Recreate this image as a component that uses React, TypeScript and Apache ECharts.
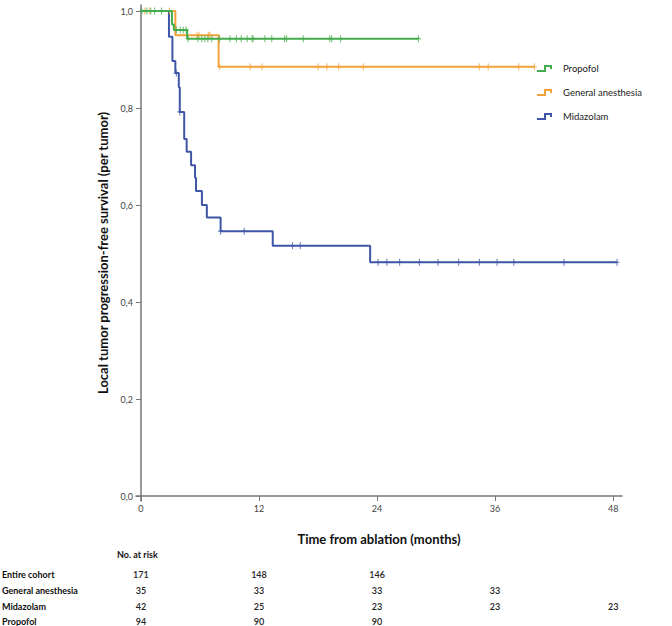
import React, { useEffect, useRef } from "react";
import * as echarts from "echarts";

// ---- data ----
const xTicks = [0, 12, 24, 36, 48];
const yTicks = [0, 0.2, 0.4, 0.6, 0.8, 1.0];

const seriesNames = ["Propofol", "General anesthesia", "Midazolam"];
const seriesColors = ["#43ad4c", "#f4a23a", "#3f56a6"];

const propofolTimes = [0, 3.15, 3.35, 4.7, 28.2];
const propofolSurv = [1, 0.972, 0.961, 0.943, 0.943];
const propofolCensor = [0.1, 0.6, 1.0, 1.4, 2.1, 3.6, 4.0, 4.3, 4.6, 4.8, 5.8, 6.2, 6.5, 6.8, 7.2, 8.0, 9.05, 9.7, 10.2, 10.8, 11.3, 11.4, 12.6, 13.3, 14.6, 14.8, 16.5, 19.2, 19.4, 20.3, 28.2];

const generalTimes = [0, 3.5, 7.9, 40.0];
const generalSurv = [1, 0.95, 0.885, 0.885];
const generalCensor = [0.4, 0.9, 2.9, 5.7, 5.9, 6.85, 7.0, 8.0, 11.1, 12.3, 18.0, 18.9, 20.1, 22.6, 34.4, 35.3, 38.4, 40.0];

const midazolamTimes = [0, 2.85, 3.2, 3.5, 3.85, 3.95, 4.4, 4.65, 5.1, 5.5, 5.6, 6.2, 6.7, 8.1, 13.4, 23.3, 48.4];
const midazolamSurv = [1, 0.947, 0.897, 0.872, 0.843, 0.792, 0.736, 0.71, 0.682, 0.656, 0.629, 0.6, 0.574, 0.546, 0.516, 0.482, 0.482];
const midazolamCensor = [3.6, 3.95, 8.1, 10.5, 15.4, 16.2, 24.1, 25.0, 26.3, 28.3, 30.2, 32.3, 34.4, 36.2, 37.9, 43.0, 48.4];

const riskTimes = [0, 12, 24, 36, 48];
const riskRowLabels = ["Entire cohort", "General anesthesia", "Midazolam", "Propofol"];
const riskEntire = [171, 148, 146, null, null];
const riskGeneral = [35, 33, 33, 33, null];
const riskMidazolam = [42, 25, 23, 23, 23];
const riskPropofol = [94, 90, 90, null, null];

// ---- helpers ----
function survAt(times: number[], surv: number[], t: number) {
  let v = surv[0];
  for (let i = 0; i < times.length; i++) if (t >= times[i]) v = surv[i];
  return v;
}

const FONT = "Lato, 'Open Sans', sans-serif";
const PLUS = "path://M2,0 L3,0 L3,2.5 L5,2.5 L5,3.5 L3,3.5 L3,6 L2,6 L2,3.5 L0,3.5 L0,2.5 L2,2.5 Z";

export default function App() {
  const ref = useRef<HTMLDivElement>(null);
  useEffect(() => {
    document.body.style.margin = "0";
    const chart = echarts.init(ref.current!, null, { renderer: "svg" });
    const curves = [
      [propofolTimes, propofolSurv, propofolCensor],
      [generalTimes, generalSurv, generalCensor],
      [midazolamTimes, midazolamSurv, midazolamCensor],
    ] as number[][][];

    const series: any[] = [];
    curves.forEach(([times, surv, cens], i) => {
      series.push({
        name: seriesNames[i],
        type: "line",
        step: "end",
        data: times.map((t, k) => [t, surv[k]]),
        showSymbol: false,
        lineStyle: { color: seriesColors[i], width: 2 },
        z: 3 - i + 2,
        silent: true,
      });
      series.push({
        name: seriesNames[i] + " censored",
        type: "scatter",
        data: cens.map((t) => [t, survAt(times, surv, t)]),
        symbol: PLUS,
        symbolSize: [5, 7],
        itemStyle: { color: seriesColors[i] },
        z: 3 - i + 2,
        silent: true,
      });
    });

    const axisColor = "#777";
    chart.setOption({
      animation: false,
      textStyle: { fontFamily: FONT },
      grid: { left: 136, right: 50, top: 5, bottom: 125 },
      xAxis: {
        type: "value",
        min: -0.5,
        max: 48.9,
        splitLine: { show: false },
        axisLine: { lineStyle: { color: axisColor, width: 1.5 } },
        axisTick: { length: 5, lineStyle: { color: axisColor }, customValues: xTicks },
        axisLabel: { customValues: xTicks, fontSize: 9, color: "#444", margin: 3, fontFamily: FONT },
        name: "Time from ablation (months)",
        nameLocation: "middle",
        nameGap: 31,
        nameTextStyle: { fontSize: 13, fontWeight: "bold", color: "#111", fontFamily: FONT },
      },
      yAxis: {
        type: "value",
        min: -0.0103,
        max: 1.0124,
        splitLine: { show: false },
        axisLine: { show: true, lineStyle: { color: axisColor, width: 1.5 } },
        axisTick: { show: true, length: 5, lineStyle: { color: axisColor }, customValues: yTicks },
        axisLabel: {
          customValues: yTicks,
          fontSize: 9,
          color: "#444",
          margin: 3,
          fontFamily: FONT,
          formatter: (v: number) => v.toFixed(1).replace(".", ","),
        },
        name: "Local tumor progression-free survival (per tumor)",
        nameLocation: "middle",
        nameGap: 26,
        nameTextStyle: { fontSize: 13, fontWeight: "bold", color: "#111", fontFamily: FONT },
      },
      series,
    });

    // risk table and legend
    const xs = riskTimes.map((t) => chart.convertToPixel({ xAxisIndex: 0 }, t) as number);
    const rows = [riskEntire, riskGeneral, riskMidazolam, riskPropofol];
    const rowY = [574, 590, 606, 621];
    const graphic: any[] = [];
    graphic.push({
      type: "text",
      left: 117,
      top: 550,
      style: { text: "No. at risk", fontSize: 9, fontWeight: "bold", fill: "#111", fontFamily: FONT },
    });
    rows.forEach((row, r) => {
      graphic.push({
        type: "text",
        x: 2,
        y: rowY[r],
        style: { text: riskRowLabels[r], fontSize: 9, fontWeight: "bold", fill: "#111", fontFamily: FONT, verticalAlign: "middle" },
      });
      row.forEach((v, c) => {
        if (v == null) return;
        graphic.push({
          type: "text",
          x: xs[c],
          y: rowY[r],
          style: { text: String(v), fontSize: 9, fontWeight: 600, fill: "#222", fontFamily: FONT, align: "center", verticalAlign: "middle" },
        });
      });
    });
    const legY = [68, 92, 116];
    seriesNames.forEach((n, i) => {
      const y = legY[i];
      graphic.push({
        type: "polyline",
        shape: { points: [[537, y + 3], [545, y + 3], [545, y - 2], [551, y - 2], [551, y + 1]] },
        style: { stroke: seriesColors[i], lineWidth: 2, fill: null },
      });
      graphic.push({
        type: "text",
        x: 563,
        y,
        style: { text: n, fontSize: 9.5, fill: "#222", fontFamily: FONT, verticalAlign: "middle" },
      });
    });
    chart.setOption({ graphic });

    return () => chart.dispose();
  }, []);
  return <div ref={ref} style={{ width: 672, height: 626 }} />;
}
